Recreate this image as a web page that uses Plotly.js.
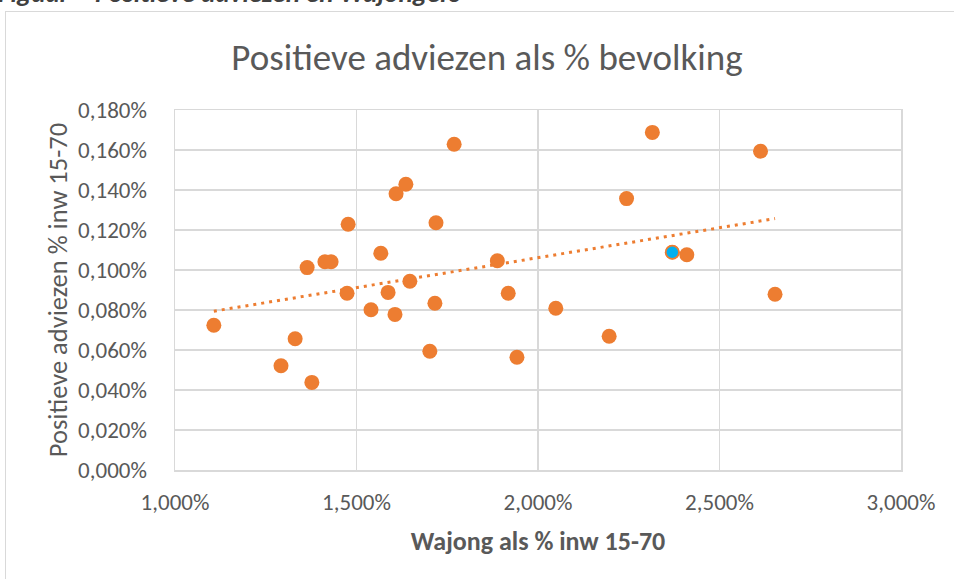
<!DOCTYPE html>
<html>
<head>
<meta charset="utf-8">
<script src="https://cdn.plot.ly/plotly-3.0.1.min.js"></script>
<style>
  html, body { margin: 0; padding: 0; background: #fff; overflow: hidden; }
  #wrap { position: relative; width: 954px; height: 579px; overflow: hidden; }
  #chart { position: absolute; left: 0; top: 0; width: 954px; height: 579px; }
  #frame { position: absolute; left: 5px; top: 11px; width: 1000px; height: 700px;
           border: 1.5px solid #D9D9D9; pointer-events: none; box-sizing: border-box; }
  #caption { position: absolute; left: -2px; top: -21px; font-family: Carlito, "Open Sans", sans-serif;
             font-weight: bold; font-style: italic; font-size: 27px; line-height: 27px; color: #404040; white-space: nowrap; }
</style>
</head>
<body>
<div id="wrap">
  <div id="chart"></div>
  <div id="frame"></div>
  <div id="caption">Figuur – Positieve adviezen en Wajongers</div>
</div>
<script>
// Wajong as % of inhabitants 15-70 (x) and positive advices as % of inhabitants 15-70 (y)
const wajongPct = [1.107, 1.292, 1.331, 1.364, 1.377, 1.413, 1.430, 1.474, 1.477, 1.540,
                   1.567, 1.587, 1.606, 1.609, 1.636, 1.647, 1.702, 1.716, 1.719, 1.769,
                   1.888, 1.918, 1.942, 2.049, 2.196, 2.244, 2.315, 2.370, 2.410, 2.613, 2.653];
const adviesPct = [0.0724, 0.0521, 0.0656, 0.1012, 0.0438, 0.1041, 0.1041, 0.0884, 0.1229, 0.0801,
                   0.1084, 0.0888, 0.0778, 0.1381, 0.1429, 0.0944, 0.0594, 0.0834, 0.1236, 0.1629,
                   0.1046, 0.0884, 0.0564, 0.0809, 0.0669, 0.1357, 0.1688, 0.1089, 0.1076, 0.1594, 0.0879];
// highlighted municipality
const highlightX = [2.370];
const highlightY = [0.1089];

const xTickVals = [1.0, 1.5, 2.0, 2.5, 3.0];
const xTickText = ["1,000%", "1,500%", "2,000%", "2,500%", "3,000%"];
const yTickVals = [0, 0.02, 0.04, 0.06, 0.08, 0.10, 0.12, 0.14, 0.16, 0.18];
const yTickText = ["0,000%", "0,020%", "0,040%", "0,060%", "0,080%", "0,100%", "0,120%", "0,140%", "0,160%", "0,180%"];

// linear trendline (least squares) computed from the data
const n = wajongPct.length;
const mx = wajongPct.reduce((a, b) => a + b, 0) / n;
const my = adviesPct.reduce((a, b) => a + b, 0) / n;
let sxy = 0, sxx = 0;
for (let i = 0; i < n; i++) { sxy += (wajongPct[i] - mx) * (adviesPct[i] - my); sxx += (wajongPct[i] - mx) ** 2; }
const slope = sxy / sxx, icpt = my - slope * mx;
const xmin = Math.min(...wajongPct), xmax = Math.max(...wajongPct);
const trendX = [xmin, xmax];
const trendY = trendX.map(v => icpt + slope * v);

const FONT = 'Carlito, "Open Sans", sans-serif';
const orange = '#ED7D31';

const traces = [
  { x: trendX, y: trendY, mode: 'lines', type: 'scatter', hoverinfo: 'skip',
    line: { color: orange, width: 3, dash: '3px,5px' } },
  { x: wajongPct, y: adviesPct, mode: 'markers', type: 'scatter',
    marker: { color: orange, size: 15, line: { width: 0 } } },
  { x: highlightX, y: highlightY, mode: 'markers', type: 'scatter',
    marker: { color: '#00B0F0', size: 13, line: { color: orange, width: 1.5 } } }
];

const layout = {
  width: 954, height: 579,
  margin: { l: 175, r: 53, t: 110, b: 109, pad: 0 },
  paper_bgcolor: 'rgba(0,0,0,0)', plot_bgcolor: '#fff',
  showlegend: false,
  font: { family: FONT, color: '#595959' },
  title: { text: 'Positieve adviezen als % bevolking', font: { family: FONT, size: 37, color: '#595959', weight: 300 },
           x: 487 / 954, xref: 'container', xanchor: 'center', y: 1 - 57 / 579, yref: 'container', yanchor: 'middle' },
  xaxis: {
    range: [1, 3], tickvals: xTickVals, ticktext: xTickText,
    tickfont: { family: FONT, size: 23, color: '#595959' },
    showgrid: true, gridcolor: '#D9D9D9', gridwidth: 1.5,
    showline: true, mirror: true, linecolor: '#D9D9D9', linewidth: 1.5,
    zeroline: false, ticks: '', ticklabelstandoff: 11,
    title: { text: '<b>Wajong als % inw 15-70</b>', font: { family: FONT, size: 26, color: '#595959' }, standoff: 16 }
  },
  yaxis: {
    range: [0, 0.18], tickvals: yTickVals, ticktext: yTickText,
    tickfont: { family: FONT, size: 23, color: '#595959' },
    showgrid: true, gridcolor: '#D9D9D9', gridwidth: 1.5,
    showline: true, mirror: true, linecolor: '#D9D9D9', linewidth: 1.5,
    zeroline: false, ticks: '', ticklabelstandoff: 22,
    title: { text: 'Positieve adviezen % inw 15-70', font: { family: FONT, size: 26.5, color: '#595959' }, standoff: 3 }
  }
};

Plotly.newPlot('chart', traces, layout, { displayModeBar: false, staticPlot: true });
</script>
</body>
</html>
